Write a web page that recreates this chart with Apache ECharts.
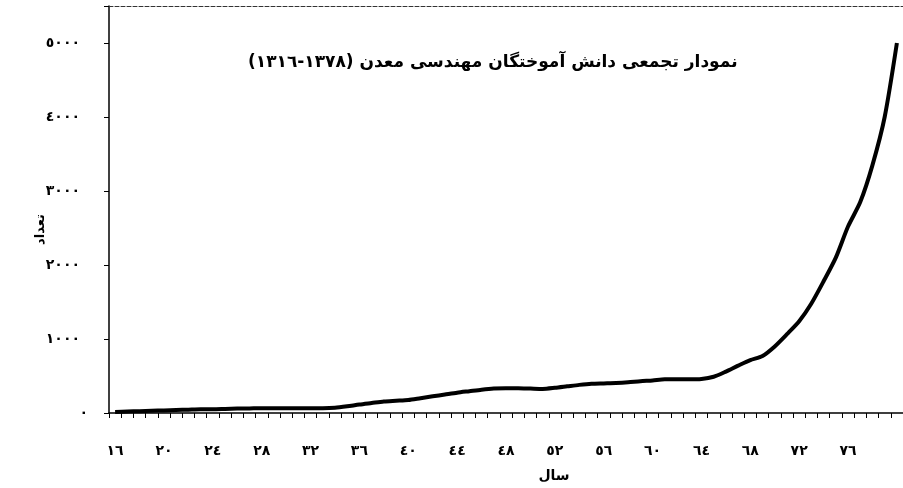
<!DOCTYPE html>
<html>
<head>
<meta charset="utf-8">
<script src="https://cdn.jsdelivr.net/npm/echarts@6/dist/echarts.min.js"></script>
<style>
html,body{margin:0;padding:0;background:#fff;}
#c{width:903px;height:488px;direction:rtl;}
</style>
</head>
<body>
<div id="c"></div>
<script>
// Years 1316..1380 (shown as last two digits, Arabic-Indic)
const yearLabels = ['١٦','١٧','١٨','١٩','٢٠','٢١','٢٢','٢٣','٢٤','٢٥','٢٦','٢٧','٢٨','٢٩','٣٠','٣١','٣٢','٣٣','٣٤','٣٥','٣٦','٣٧','٣٨','٣٩','٤٠','٤١','٤٢','٤٣','٤٤','٤٥','٤٦','٤٧','٤٨','٤٩','٥٠','٥١','٥٢','٥٣','٥٤','٥٥','٥٦','٥٧','٥٨','٥٩','٦٠','٦١','٦٢','٦٣','٦٤','٦٥','٦٦','٦٧','٦٨','٦٩','٧٠','٧١','٧٢','٧٣','٧٤','٧٥','٧٦','٧٧','٧٨','٧٩','٨٠'];
// Cumulative number of graduates
const cumulative = [15,20,25,30,35,40,45,50,50,55,60,62,65,65,65,65,65,65,70,90,115,135,155,165,175,200,225,250,275,295,315,330,335,335,330,325,340,360,380,395,400,405,415,430,440,455,455,455,460,490,560,640,715,770,900,1065,1240,1480,1780,2100,2520,2850,3350,4000,5000];
const yTickLabels = ['٠','١٠٠٠','٢٠٠٠','٣٠٠٠','٤٠٠٠','٥٠٠٠'];
const titleText = 'نمودار تجمعی دانش آموختگان مهندسی معدن (١٣٧٨-١٣١٦)\u200F';
const xName = 'سال';
const yName = 'تعداد';

const FONT = 'DejaVu Sans';
const chart = echarts.init(document.getElementById('c'), null, {renderer:'canvas'});
chart.setOption({
  animation:false,
  backgroundColor:'#fff',
  title:{
    text:titleText, left:243, top:49,
    textStyle:{fontFamily:FONT, fontWeight:'bold', fontSize:17, color:'#000'}
  },
  grid:{left:109, top:6, width:797, height:410, containLabel:false},
  xAxis:[{
    type:'category', data:yearLabels, boundaryGap:true, position:'bottom',
    name:xName, nameLocation:'middle', nameGap:56, nameMoveOverlap:false,
    nameTextStyle:{fontFamily:FONT, fontWeight:'bold', fontSize:14, color:'#000', padding:[0,0,0,96]},
    axisLine:{lineStyle:{color:'#000', width:1.5}},
    axisTick:{show:true, interval:0, length:5, lineStyle:{color:'#000', width:1}},
    axisLabel:{
      interval:function(i){return i%4===0 && i<64;},
      margin:31, fontFamily:FONT, fontWeight:'bold', fontSize:14, color:'#000'
    },
    splitLine:{show:false}
  },{
    type:'category', data:yearLabels, position:'top', gridIndex:0,
    axisLine:{lineStyle:{color:'#333', width:1, type:[4,2]}},
    axisTick:{show:false}, axisLabel:{show:false}, splitLine:{show:false}
  }],
  yAxis:{
    type:'value', min:0, max:5500, interval:1000,
    name:yName, nameLocation:'middle', nameGap:62, nameRotate:90, nameMoveOverlap:false,
    nameTextStyle:{fontFamily:FONT, fontWeight:'bold', fontSize:13, color:'#000', padding:[0,40,0,0]},
    axisLine:{show:true, lineStyle:{color:'#000', width:1.5}},
    axisTick:{show:true, length:5, lineStyle:{color:'#000'}},
    axisLabel:{
      margin:21, fontFamily:FONT, fontWeight:'bold', fontSize:14, color:'#000',
      formatter:function(v){
        const i = Math.round(v/1000);
        if (v % 1000 !== 0 || i >= yTickLabels.length) return '';
        return i===0 ? '{z|'+yTickLabels[0]+'}' : '{n|'+yTickLabels[i]+'}';
      },
      rich:{
        z:{fontFamily:FONT, fontWeight:'bold', fontSize:14, color:'#000'},
        n:{fontFamily:FONT, fontWeight:'bold', fontSize:14, color:'#000', padding:[0,8,0,0]}
      }
    },
    splitLine:{show:false}
  },
  series:[{
    type:'line', data:cumulative, xAxisIndex:0, smooth:0.25, symbol:'none',
    lineStyle:{color:'#000', width:4}
  }]
});
</script>
</body>
</html>
